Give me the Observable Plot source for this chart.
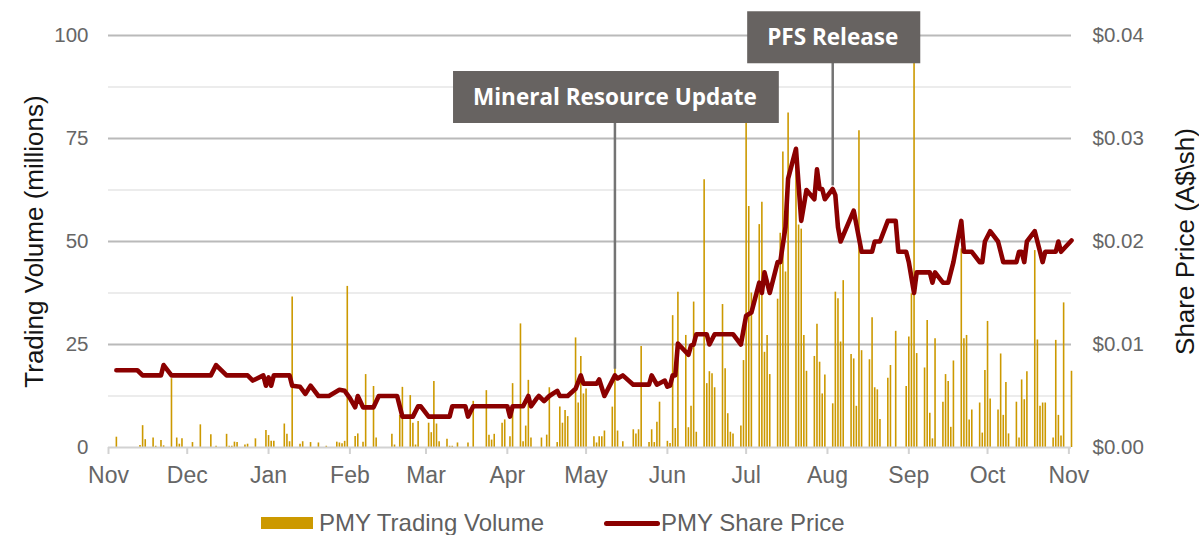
<!DOCTYPE html>
<html>
<head>
<meta charset="utf-8">
<script src="https://cdn.jsdelivr.net/npm/d3@7"></script>
<script src="https://cdn.jsdelivr.net/npm/@observablehq/plot@0.6"></script>
<style>
  html, body { margin: 0; padding: 0; background: #fff; }
  #wrap { position: relative; width: 1199px; height: 535px; overflow: hidden; font-family: "Liberation Sans", Arial, sans-serif; }
  .lg-text { position: absolute; font-size: 24px; line-height: 24px; color: #5f5f5f; white-space: nowrap; }
  .lg-sw { position: absolute; }
</style>
</head>
<body>
<div id="wrap"></div>
<script>
// ---------- data ----------
const seriesNames = ["PMY Trading Volume", "PMY Share Price"];

const volumeDates = [
  "2019-11-04","2019-11-13","2019-11-14","2019-11-15","2019-11-18","2019-11-19","2019-11-21","2019-11-22","2019-11-25","2019-11-27","2019-11-28","2019-11-29",
  "2019-12-03","2019-12-06","2019-12-10","2019-12-12","2019-12-16","2019-12-17","2019-12-18","2019-12-19","2019-12-20","2019-12-23","2019-12-24","2019-12-27","2019-12-31",
  "2020-01-01","2020-01-02","2020-01-03","2020-01-07","2020-01-08","2020-01-09","2020-01-10","2020-01-13","2020-01-14","2020-01-17","2020-01-20","2020-01-23","2020-01-27","2020-01-28","2020-01-29","2020-01-30","2020-01-31",
  "2020-02-03","2020-02-04","2020-02-06","2020-02-07","2020-02-10","2020-02-11","2020-02-17","2020-02-18","2020-02-20","2020-02-21","2020-02-24","2020-02-25","2020-02-26","2020-02-27",
  "2020-03-02","2020-03-03","2020-03-04","2020-03-05","2020-03-06","2020-03-09","2020-03-10","2020-03-11","2020-03-13","2020-03-17","2020-03-19","2020-03-24","2020-03-25","2020-03-26","2020-03-27","2020-03-30","2020-03-31",
  "2020-04-02","2020-04-03","2020-04-06","2020-04-07","2020-04-08","2020-04-09","2020-04-10","2020-04-14","2020-04-16","2020-04-17","2020-04-20","2020-04-21","2020-04-22","2020-04-23","2020-04-24","2020-04-27","2020-04-28","2020-04-29","2020-04-30",
  "2020-05-01","2020-05-04","2020-05-05","2020-05-06","2020-05-07","2020-05-08","2020-05-11","2020-05-12","2020-05-13","2020-05-15","2020-05-19","2020-05-20","2020-05-21","2020-05-22","2020-05-25","2020-05-26","2020-05-27","2020-05-28","2020-05-29",
  "2020-06-01","2020-06-02","2020-06-03","2020-06-04","2020-06-05","2020-06-08","2020-06-09","2020-06-10","2020-06-11","2020-06-12","2020-06-15","2020-06-16","2020-06-17","2020-06-18","2020-06-19","2020-06-22","2020-06-23","2020-06-24","2020-06-25","2020-06-26","2020-06-29","2020-06-30",
  "2020-07-01","2020-07-02","2020-07-03","2020-07-06","2020-07-07","2020-07-08","2020-07-09","2020-07-10","2020-07-13","2020-07-14","2020-07-15","2020-07-16","2020-07-17","2020-07-20","2020-07-21","2020-07-22","2020-07-23","2020-07-24","2020-07-27","2020-07-28","2020-07-29","2020-07-30","2020-07-31",
  "2020-08-03","2020-08-04","2020-08-05","2020-08-06","2020-08-07","2020-08-10","2020-08-11","2020-08-12","2020-08-13","2020-08-14","2020-08-17","2020-08-18","2020-08-19","2020-08-20","2020-08-21","2020-08-24","2020-08-25","2020-08-27","2020-08-31",
  "2020-09-01","2020-09-02","2020-09-03","2020-09-04","2020-09-07","2020-09-08","2020-09-09","2020-09-10","2020-09-11","2020-09-14","2020-09-15","2020-09-16","2020-09-17","2020-09-18","2020-09-21","2020-09-22","2020-09-23","2020-09-24","2020-09-25","2020-09-28","2020-09-29","2020-09-30",
  "2020-10-01","2020-10-02","2020-10-05","2020-10-06","2020-10-07","2020-10-08","2020-10-09","2020-10-12","2020-10-13","2020-10-14","2020-10-15","2020-10-16","2020-10-19","2020-10-20","2020-10-21","2020-10-22","2020-10-23","2020-10-26","2020-10-27","2020-10-28","2020-10-29","2020-10-30",
  "2020-11-02"
];
const volumeValues = [
  2.5,0.5,5.3,1.9,2.3,0.3,1.7,0.4,16.7,2.3,0.8,2.1,
  1.2,5.5,3.1,0.3,3.2,0.3,0.3,1.3,1.2,0.6,0.8,2.1,4.1,
  2.9,1.5,1.5,5.7,3.2,1.4,36.5,0.8,1.4,1.2,1.1,0.3,1.3,1.1,0.9,1.5,39.1,
  2.7,3.3,1.3,17.7,14.8,2.3,3.2,0.6,7.8,14.6,12.6,5.9,0.6,6.3,
  5.9,3.6,16.0,5.7,1.4,2.0,0.3,0.3,1.1,1.1,11.2,13.8,3.0,1.8,3.2,5.9,6.7,
  2.6,15.5,30.0,1.4,5.2,16.3,2.3,2.3,3.0,14.5,1.2,9.8,5.9,9.0,7.5,26.6,10.8,22.1,13.0,
  14.2,2.6,1.1,2.6,2.6,4.0,9.8,21.5,4.0,1.4,4.3,3.3,4.3,24.5,1.2,4.3,1.2,6.1,11.0,
  1.5,1.0,32.0,4.6,37.7,27.2,4.8,10.0,35.3,3.7,65.0,15.5,18.4,17.9,14.5,34.7,19.1,8.2,3.7,3.3,5.2,21.1,
  82.0,58.5,37.5,54.1,59.5,23.1,27.2,17.7,36.0,52.0,71.7,42.6,81.2,68.0,54.0,53.0,27.2,18.5,22.1,29.9,20.7,13.0,17.6,
  10.6,37.7,36.1,25.6,40.5,22.6,21.5,10.0,76.9,23.5,21.3,31.5,14.5,14.0,6.8,16.8,19.9,28.2,14.8,
  26.8,37.3,98.0,22.8,19.3,30.8,8.3,2.1,26.4,11.0,17.7,16.0,4.9,21.0,48.2,26.4,27.2,6.7,9.1,10.8,3.5,18.7,
  30.6,11.8,9.1,22.7,7.8,15.8,3.3,11.0,2.3,16.4,11.6,18.4,47.8,26.1,10.0,10.8,10.8,2.3,26.0,7.8,2.8,35.1,
  18.5
];

const priceDates = [
  "2019-11-04","2019-11-12","2019-11-14","2019-11-21","2019-11-22","2019-11-25","2019-12-10","2019-12-12","2019-12-16","2019-12-24","2019-12-26","2019-12-30","2019-12-31",
  "2020-01-01","2020-01-02","2020-01-03","2020-01-09","2020-01-10","2020-01-13","2020-01-15","2020-01-17","2020-01-20","2020-01-24","2020-01-28","2020-01-30",
  "2020-02-01","2020-02-03","2020-02-04","2020-02-06","2020-02-10","2020-02-12","2020-02-19","2020-02-21","2020-02-25","2020-02-27","2020-02-28",
  "2020-03-02","2020-03-10","2020-03-11","2020-03-16","2020-03-17","2020-03-19",
  "2020-04-01","2020-04-02","2020-04-03","2020-04-07","2020-04-09","2020-04-10","2020-04-12","2020-04-13","2020-04-15","2020-04-17","2020-04-20","2020-04-21","2020-04-24","2020-04-27","2020-04-29","2020-04-30",
  "2020-05-05","2020-05-06","2020-05-08","2020-05-12","2020-05-13","2020-05-15","2020-05-19","2020-05-25","2020-05-26","2020-05-28","2020-05-31",
  "2020-06-01","2020-06-02","2020-06-03","2020-06-04","2020-06-05","2020-06-09","2020-06-10","2020-06-11","2020-06-12","2020-06-16","2020-06-17","2020-06-19","2020-06-26","2020-06-29",
  "2020-07-01","2020-07-03","2020-07-06","2020-07-07","2020-07-08","2020-07-10","2020-07-13","2020-07-14","2020-07-16","2020-07-17","2020-07-20","2020-07-22","2020-07-24","2020-07-27","2020-07-28","2020-07-29","2020-07-30","2020-07-31",
  "2020-08-03","2020-08-04","2020-08-05","2020-08-06","2020-08-11","2020-08-14","2020-08-18","2020-08-19","2020-08-21","2020-08-24","2020-08-27","2020-08-28","2020-08-31",
  "2020-09-01","2020-09-03","2020-09-04","2020-09-09","2020-09-10","2020-09-11","2020-09-14","2020-09-16","2020-09-17","2020-09-18","2020-09-21","2020-09-22","2020-09-25","2020-09-28","2020-09-29","2020-09-30",
  "2020-10-02","2020-10-05","2020-10-06","2020-10-07","2020-10-12","2020-10-13","2020-10-14","2020-10-15","2020-10-16","2020-10-19","2020-10-21","2020-10-22","2020-10-23","2020-10-27","2020-10-28","2020-10-29",
  "2020-11-02"
];
const priceValues = [
  0.0075,0.0075,0.007,0.007,0.008,0.007,0.007,0.008,0.007,0.007,0.0065,0.007,0.006,
  0.0068,0.006,0.007,0.007,0.006,0.0059,0.0052,0.006,0.005,0.005,0.0056,0.0055,
  0.0048,0.0039,0.005,0.0039,0.0039,0.005,0.005,0.003,0.003,0.004,0.004,
  0.003,0.003,0.004,0.004,0.003,0.004,
  0.004,0.003,0.004,0.004,0.005,0.004,0.0047,0.005,0.0045,0.005,0.0055,0.005,0.005,0.0057,0.007,0.0062,
  0.0062,0.0066,0.005,0.007,0.0067,0.007,0.0061,0.0061,0.007,0.0061,0.0065,
  0.0059,0.006,0.007,0.007,0.0101,0.009,0.0099,0.01,0.011,0.011,0.01,0.011,0.011,0.01,
  0.0128,0.0131,0.016,0.015,0.017,0.015,0.018,0.018,0.0214,0.0261,0.029,0.022,0.025,0.0241,0.027,0.0251,0.0251,0.0241,
  0.0251,0.0245,0.0214,0.02,0.023,0.019,0.019,0.02,0.02,0.022,0.022,0.019,0.019,
  0.018,0.015,0.017,0.017,0.016,0.017,0.016,0.016,0.017,0.018,0.022,0.019,0.019,0.018,0.018,0.02,
  0.021,0.02,0.019,0.018,0.018,0.019,0.019,0.018,0.02,0.021,0.019,0.018,0.019,0.019,0.02,0.019,
  0.0201
];

const volumeTicks = [0, 25, 50, 75, 100];          // millions
const volumeMinorTicks = [12.5, 37.5, 62.5, 87.5];
const priceTicks = [0, 0.01, 0.02, 0.03, 0.04];     // A$/sh
const monthTickDates = ["2019-11-01","2019-12-01","2020-01-01","2020-02-01","2020-03-01","2020-04-01","2020-05-01","2020-06-01","2020-07-01","2020-08-01","2020-09-01","2020-10-01","2020-11-01"];
const monthTickLabels = ["Nov","Dec","Jan","Feb","Mar","Apr","May","Jun","Jul","Aug","Sep","Oct","Nov"];

const annotationLabels = ["Mineral Resource Update", "PFS Release"];
const annotationDates = ["2020-05-12", "2020-08-03"];
const annotationTargets = [0.0076, 0.0254];          // share price the pointer reaches
const annotationLevels = [85, 99.5];                 // label height, in volume units

const yLeftTitle = "Trading Volume (millions)";
const yRightTitle = "Share Price (A$\\sh)";

// ---------- build ----------
const parse = d3.utcParse("%Y-%m-%d");
const K = volumeTicks[volumeTicks.length - 1] / priceTicks[priceTicks.length - 1]; // price -> left units

const vol = volumeDates.map((d, i) => ({date: parse(d), v: volumeValues[i]}));
const price = priceDates.map((d, i) => ({date: parse(d), v: priceValues[i] * K}));
const ann = annotationLabels.map((t, i) => ({
  label: t, date: parse(annotationDates[i]), level: annotationLevels[i], at: annotationTargets[i] * K
}));
const monthTicks = monthTickDates.map(parse);
const labelOf = new Map(monthTicks.map((d, i) => [+d, monthTickLabels[i]]));
const priceLabelOf = new Map(priceTicks.map(p => [p * K, "$" + p.toFixed(2)]));

const GOLD = "#cc9900", RED = "#8b0000";
const FONT = '"Liberation Sans", Arial, sans-serif';

const chart = Plot.plot({
  width: 1199,
  height: 500,
  marginLeft: 108,
  marginRight: 128,
  marginTop: 35,
  marginBottom: 53,
  style: {fontFamily: FONT, background: "transparent", overflow: "visible"},
  x: {type: "utc", domain: [parse("2019-11-01"), parse("2020-11-02")]},
  y: {domain: [0, 100]},
  marks: [
    Plot.ruleY(volumeMinorTicks, {stroke: "#ececec", strokeWidth: 2}),
    Plot.ruleY(volumeTicks.slice(1), {stroke: "#bababa", strokeWidth: 2}),
    Plot.ruleX(vol, {x: "date", y1: 0, y2: "v", stroke: GOLD, strokeWidth: 1.6}),
    Plot.ruleY([0], {stroke: "#d2d2d2", strokeWidth: 2}),
    Plot.axisX({
      ticks: monthTicks, tickFormat: d => labelOf.get(+d), tickSize: 7, tickPadding: 12,
      stroke: "#d2d2d2", strokeWidth: 2, color: "#666", fontSize: 23, label: null
    }),
    Plot.axisY({
      ticks: volumeTicks, tickSize: 0, tickPadding: 20, color: "#666", fontSize: 20.5, label: null
    }),
    Plot.axisY({
      anchor: "right", ticks: priceTicks.map(p => p * K), tickFormat: d => priceLabelOf.get(d),
      tickSize: 0, tickPadding: 21, color: "#666", fontSize: 20.5, label: null
    }),
    Plot.line(price, {x: "date", y: "v", stroke: RED, strokeWidth: 4.6, strokeLinejoin: "round", strokeLinecap: "round"}),
    Plot.ruleX(ann, {x: "date", y1: "level", y2: "at", stroke: "#747474", strokeWidth: 2.5}),
    Plot.text(ann, {
      x: "date", y: "level", text: "label", fill: "white", fontWeight: "bold",
      fontFamily: '"Open Sans", "DejaVu Sans", sans-serif', fontSize: 22.5, className: "annot"
    }),
    Plot.text([yLeftTitle], {frameAnchor: "left", rotate: -90, dx: -74, textAnchor: "middle", fontSize: 26, fill: "#151515"}),
    Plot.text([yRightTitle], {frameAnchor: "right", rotate: -90, dx: 114, textAnchor: "middle", fontSize: 26, fill: "#151515"})
  ]
});

const wrap = document.getElementById("wrap");
wrap.appendChild(chart);

// boxes behind annotation labels
d3.select(chart).selectAll("g.annot text").each(function() {
  const b = this.getBBox();
  const cy = b.y + b.height / 2 + 1;
  const node = this;
  d3.select(this.parentNode).insert("rect", () => node)
    .attr("x", b.x - 20).attr("y", cy - 26)
    .attr("width", b.width + 42).attr("height", 52)
    .attr("fill", "#676361")
    .attr("transform", this.getAttribute("transform"));
});

// legend (below the svg)
function add(tag, cls, css, text) {
  const el = document.createElement(tag);
  el.className = cls;
  Object.assign(el.style, css);
  if (text) el.textContent = text;
  wrap.appendChild(el);
  return el;
}
add("div", "lg-sw", {left: "261px", top: "517px", width: "52px", height: "12px", background: GOLD});
add("div", "lg-text", {left: "319px", top: "511px"}, seriesNames[0]);
add("div", "lg-sw", {left: "604px", top: "521px", width: "56px", height: "5px", borderRadius: "3px", background: RED});
add("div", "lg-text", {left: "661px", top: "511px"}, seriesNames[1]);
</script>
</body>
</html>
